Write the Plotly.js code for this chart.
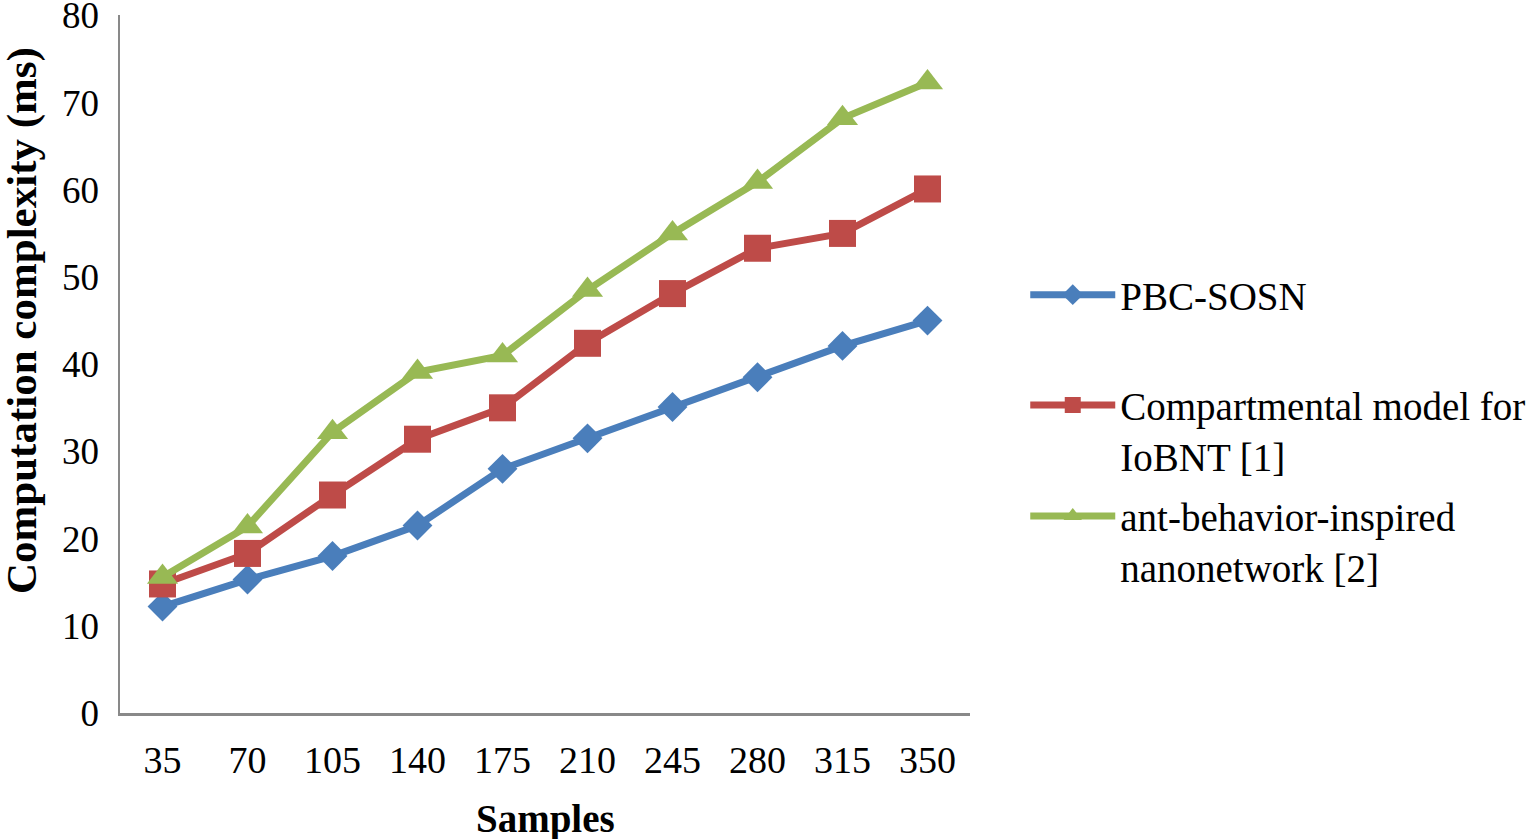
<!DOCTYPE html>
<html>
<head>
<meta charset="utf-8">
<script src="https://cdn.plot.ly/plotly-3.0.1.min.js"></script>
<style>html,body{margin:0;padding:0;background:#fff;}#chart{width:1530px;height:839px;}</style>
</head>
<body>
<div id="chart"></div>
<script>
const samples = ["35","70","105","140","175","210","245","280","315","350"];
const pbcSosn = [12.2, 15.3, 18.0, 21.5, 28.0, 31.5, 35.1, 38.5, 42.1, 45.0];
const compartmental = [14.8, 18.3, 25.0, 31.4, 35.0, 42.4, 48.1, 53.3, 55.0, 60.1];
const antBehavior = [15.6, 21.4, 32.2, 39.1, 41.0, 48.5, 55.0, 60.9, 68.2, 72.3];
const seriesNames = ["PBC-SOSN", "Compartmental model for<br>IoBNT [1]", "ant-behavior-inspired<br>nanonetwork [2]"];
const yTicks = [0,10,20,30,40,50,60,70,80];
const xTitle = "Samples";
const yTitle = "Computation complexity (ms)";

const font = "Liberation Serif, Times New Roman, serif";
const traces = [
  {x: samples, y: pbcSosn, name: seriesNames[0], legend: "legend", type: "scatter", mode: "lines+markers",
   line: {color: "#4A7EBB", width: 7}, marker: {symbol: "diamond", size: 23, color: "#4A7EBB"}},
  {x: samples, y: compartmental, name: seriesNames[1], legend: "legend2", type: "scatter", mode: "lines+markers",
   line: {color: "#BE4B48", width: 7}, marker: {symbol: "square", size: 27, color: "#BE4B48"}},
  {x: samples, y: antBehavior, name: seriesNames[2], legend: "legend3", type: "scatter", mode: "lines+markers",
   line: {color: "#98B954", width: 7}, marker: {symbol: "triangle-up", size: 27, color: "#98B954"}}
];
function leg(y) {
  return {x: 1.065, y: y, xanchor: "left", yanchor: "top", valign: "top",
          font: {family: font, size: 39, color: "#000"}, itemwidth: 85, bgcolor: "rgba(0,0,0,0)"};
}
const layout = {
  width: 1530, height: 839,
  margin: {l: 120, r: 560, t: 15, b: 126, autoexpand: false},
  paper_bgcolor: "#fff", plot_bgcolor: "#fff",
  font: {family: font, size: 36, color: "#000"},
  showlegend: true,
  legend: leg(0.645),
  legend2: leg(0.487),
  legend3: leg(0.328),
  xaxis: {type: "category", range: [-0.5, 9.5], showline: true, linecolor: "#898989", linewidth: 2.5, showgrid: false, zeroline: false,
          ticks: "", tickfont: {family: font, size: 38}, ticklabelstandoff: 12, automargin: false},
  yaxis: {range: [0, 80.05], tickvals: yTicks, showline: true, linecolor: "#898989", linewidth: 2.5, showgrid: false, zeroline: false,
          ticks: "", tickfont: {family: font, size: 37}, ticklabelstandoff: 11, ticklabeloverflow: "allow", automargin: false},
  annotations: [
    {text: "<b>" + xTitle + "</b>", xref: "paper", yref: "paper", x: 0.5, y: -0.152, xanchor: "center", yanchor: "middle",
     showarrow: false, font: {family: font, size: 39, color: "#000"}},
    {text: "<b>" + yTitle + "</b>", xref: "paper", yref: "paper", x: -0.116, y: 0.562, xanchor: "center", yanchor: "middle",
     textangle: -90, showarrow: false, font: {family: font, size: 43, color: "#000"}}
  ]
};
Plotly.newPlot("chart", traces, layout, {displayModeBar: false, staticPlot: true});
</script>
</body>
</html>
